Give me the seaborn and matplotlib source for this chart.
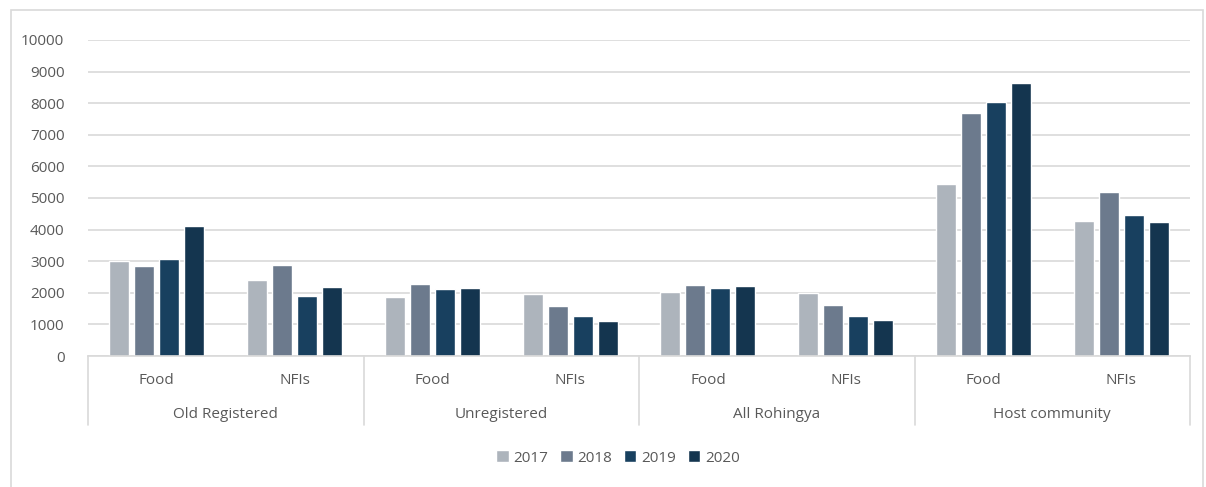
import numpy as np
import pandas as pd
import matplotlib
matplotlib.use('Agg')
import matplotlib.pyplot as plt
import seaborn as sns
from matplotlib.patches import Rectangle

# data
groups = ['Old Registered', 'Unregistered', 'All Rohingya', 'Host community']
items = ['Food', 'NFIs']
years = ['2017', '2018', '2019', '2020']
v2017 = [3000, 2410, 1855, 1960, 2030, 1980, 5450, 4280]
v2018 = [2835, 2875, 2265, 1590, 2255, 1610, 7690, 5205]
v2019 = [3055, 1895, 2115, 1265, 2140, 1280, 8040, 4465]
v2020 = [4105, 2190, 2150, 1095, 2220, 1130, 8625, 4235]
colors = ['#ADB4BC', '#6C7A8D', '#18405F', '#14354F']

cats = [f'{g}|{it}' for g in groups for it in items]
rows = []
for yr, vals in zip(years, [v2017, v2018, v2019, v2020]):
    for c, v in zip(cats, vals):
        rows.append({'cat': c, 'year': yr, 'value': v})
df = pd.DataFrame(rows)

sns.set_style('white')
plt.rcParams['font.family'] = ['Open Sans', 'DejaVu Sans']
txt = '#595959'
grid = '#D9D9D9'
fs = 11

fig = plt.figure(figsize=(12.06, 4.87), dpi=100)
W, H = 1206, 487
ax = fig.add_axes([88 / W, 1 - 356 / H, (1190 - 88) / W, (356 - 40) / H])

sns.barplot(data=df, x='cat', y='value', hue='year', order=cats, hue_order=years,
            palette=colors, saturation=1, width=0.725, gap=0.2, ax=ax, legend=True)

ax.set_ylim(0, 10000)
ax.set_xlim(-0.5, len(cats) - 0.5)
ax.set_yticks(np.arange(0, 10001, 1000))
ax.yaxis.grid(True, color=grid, linewidth=1.2)
ax.set_axisbelow(True)
ax.tick_params(axis='y', length=0, pad=17, labelsize=fs, labelcolor=txt)
ax.set_xticks([])
ax.set_xlabel('')
ax.set_ylabel('')
for s in ['left', 'right', 'top']:
    ax.spines[s].set_visible(False)
ax.spines['bottom'].set_color(grid)
ax.spines['bottom'].set_linewidth(1.2)

# multi-level category axis
trans = ax.get_xaxis_transform()
y_sub = -(380 - 356) / (356 - 40)
y_grp = -(415 - 356) / (356 - 40)
y_end = -(425 - 356) / (356 - 40)
for i, c in enumerate(cats):
    ax.text(i, y_sub, c.split('|')[1], transform=trans, ha='center', va='center',
            fontsize=fs, color=txt)
for j, g in enumerate(groups):
    ax.text(2 * j + 0.5, y_grp, g, transform=trans, ha='center', va='center',
            fontsize=fs, color=txt)
for k in range(len(groups) + 1):
    ax.plot([2 * k - 0.5, 2 * k - 0.5], [0, y_end], transform=trans, color=grid,
            linewidth=1.2, clip_on=False)

leg = ax.legend(loc='center', bbox_to_anchor=(618 / W, 1 - 458 / H),
                bbox_transform=fig.transFigure, ncol=4, frameon=False,
                handlelength=0.8, handleheight=0.8, handletextpad=0.3,
                columnspacing=0.8, fontsize=fs)
for t in leg.get_texts():
    t.set_color(txt)

# outer chart frame
fig.patches.append(Rectangle((11 / W, -0.01), (1203 - 11) / W, 1 - 10 / H + 0.01,
                             transform=fig.transFigure, fill=False,
                             edgecolor=grid, linewidth=1.2))

fig.savefig('out.png', dpi=100)
